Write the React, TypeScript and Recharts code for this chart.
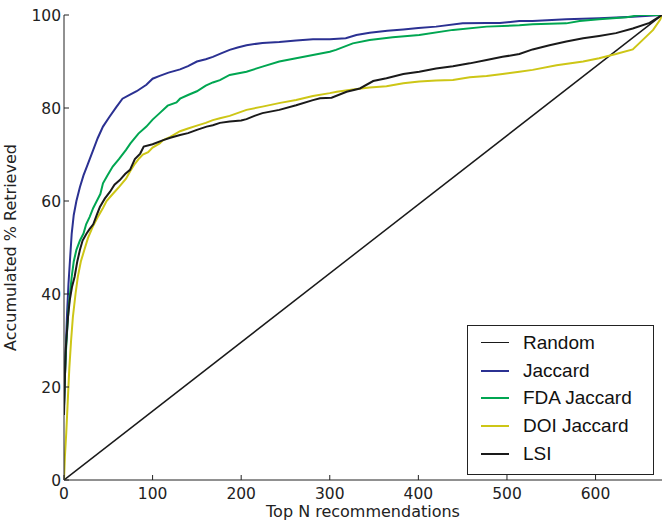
import React from "react";
import { LineChart, Line, XAxis, YAxis, Legend } from "recharts";

// [top N, accumulated % retrieved]
const random = [[0, 0], [675, 100]];

const jaccard = [
  [0, 16], [1, 22], [2, 28], [3.5, 36], [5, 42], [7, 48], [8.7, 53], [11, 57], [14, 60],
  [18, 63], [22, 65.5], [27, 68], [33, 71], [38, 73.5], [44, 76], [51, 78], [59, 80.2],
  [66, 82], [74, 82.8], [82, 83.6], [93, 85], [100, 86.3], [108, 86.9], [118, 87.6],
  [131, 88.3], [140, 89], [150, 90], [160, 90.5], [168, 91], [178, 91.8], [187, 92.5],
  [196, 93], [206, 93.5], [224, 94], [243, 94.2], [262, 94.5], [281, 94.8], [300, 94.8],
  [318, 95], [330, 95.7], [345, 96.2], [365, 96.6], [383, 96.9], [400, 97.2], [420, 97.5],
  [450, 98.2], [477, 98.3], [492, 98.3], [514, 98.7], [529, 98.7], [567, 99.1], [604, 99.3],
  [642, 99.6], [675, 100],
];

const fdaJaccard = [
  [0, 16], [1, 22], [2, 27], [3.5, 32], [5, 36.5], [7, 40.5], [8.7, 43.7], [11, 47], [14, 49.5],
  [18, 51.5], [22, 53], [25, 55], [29, 56.6], [33, 58.5], [37, 60], [41, 61.5], [44, 63.8],
  [49, 65.5], [55, 67.4], [62, 69], [70, 71], [75, 72.4], [84, 74.5], [93, 76], [100, 77.5],
  [108, 78.9], [117, 80.5], [127, 81.2], [131, 82], [140, 82.8], [150, 83.6], [160, 84.8],
  [168, 85.5], [176, 86], [187, 87.1], [206, 87.8], [224, 88.9], [243, 90], [262, 90.7],
  [281, 91.4], [300, 92.1], [307, 92.5], [326, 93.9], [345, 94.6], [371, 95.2], [401, 95.7],
  [439, 96.8], [477, 97.5], [514, 97.8], [529, 98], [567, 98.2], [582, 98.7], [604, 99.1],
  [635, 99.5], [650, 100], [675, 100],
];

const doiJaccard = [
  [0, 0], [1, 5], [2.5, 10], [4, 16], [6, 24], [8, 30], [10, 35], [13, 40], [15.6, 43.7],
  [19, 47], [23, 49.5], [27, 52], [32.5, 54.5], [38, 56.5], [44, 58.5], [48, 60], [55, 61.5],
  [62, 63], [70, 64.8], [75, 66.5], [80, 68], [85, 69.2], [89, 70], [95, 70.5], [100, 71.5],
  [108, 72.4], [112, 73.1], [120, 73.8], [131, 75], [140, 75.6], [150, 76.2], [160, 76.8],
  [168, 77.4], [176, 77.8], [187, 78.3], [206, 79.6], [224, 80.3], [244, 81.1], [262, 81.7],
  [281, 82.6], [300, 83.2], [308, 83.5], [326, 84], [345, 84.4], [364, 84.7], [383, 85.3],
  [401, 85.7], [420, 85.9], [439, 86], [458, 86.6], [477, 86.9], [495, 87.3], [514, 87.8],
  [529, 88.2], [556, 89.2], [586, 90], [604, 90.7], [623, 91.6], [642, 92.6], [653, 94.6],
  [665, 96.8], [673, 99], [675, 100],
];

const lsi = [
  [0, 14], [1, 22], [2, 28], [3, 31], [4.5, 35], [6.5, 38.7], [9, 41.5], [12, 43.7], [15, 47],
  [18, 49.5], [21, 51.5], [25.5, 53], [29, 54], [33, 55], [37, 57], [40.5, 58.7], [46, 60.5],
  [52, 62], [57, 63.5], [63, 64.5], [69, 65.8], [74.5, 66.7], [80, 69], [86, 70.2], [90, 71.7],
  [100, 72.2], [112, 73.1], [120, 73.6], [131, 74.2], [140, 74.6], [150, 75.3], [161, 76],
  [168, 76.3], [176, 76.8], [187, 77.1], [200, 77.3], [206, 77.6], [215, 78.3], [224, 78.9],
  [243, 79.6], [262, 80.6], [281, 81.7], [289, 82.1], [302, 82.2], [319, 83.5], [334, 84.2],
  [349, 85.8], [364, 86.4], [383, 87.3], [401, 87.8], [420, 88.5], [439, 89], [458, 89.6],
  [477, 90.3], [495, 91], [514, 91.6], [529, 92.6], [548, 93.5], [567, 94.3], [586, 95],
  [604, 95.5], [623, 96.1], [642, 97.1], [661, 98.3], [675, 100],
];

const xTicks = [0, 100, 200, 300, 400, 500, 600];
const yTicks = [0, 20, 40, 60, 80, 100];

const SERIES = [
  { name: "Random", points: random, color: "#1a1a1a", width: 1.5 },
  { name: "Jaccard", points: jaccard, color: "#2b3192", width: 2 },
  { name: "FDA Jaccard", points: fdaJaccard, color: "#00a651", width: 2 },
  { name: "DOI Jaccard", points: doiJaccard, color: "#cdc616", width: 2 },
  { name: "LSI", points: lsi, color: "#1a1a1a", width: 2 },
];
const ORDER = SERIES.map((s) => s.name);

const toRows = (pts: number[][]) => pts.map(([x, y]) => ({ x, y }));

const INK = "#222";
const TICK_FONT = { fontFamily: "DejaVu Sans", fontSize: 15.5, fill: "#222" };

const BottomTick = ({ x, y, payload }: any) => (
  <g>
    <line x1={x} y1={y} x2={x} y2={y - 5} stroke={INK} />
    <text x={x} y={y + 19} textAnchor="middle" {...TICK_FONT}>{payload.value}</text>
  </g>
);
const TopTick = ({ x, y }: any) => <line x1={x} y1={y} x2={x} y2={y + 5} stroke={INK} />;
const LeftTick = ({ x, y, payload }: any) => (
  <g>
    <line x1={x} y1={y} x2={x + 5} y2={y} stroke={INK} />
    <text x={x - 3} y={y + 5.5} textAnchor="end" {...TICK_FONT}>{payload.value}</text>
  </g>
);
const RightTick = ({ x, y }: any) => <line x1={x} y1={y} x2={x - 5} y2={y} stroke={INK} />;

const LegendBox = ({ payload }: any) => {
  const items = [...(payload || [])].sort(
    (a: any, b: any) => ORDER.indexOf(a.value) - ORDER.indexOf(b.value),
  );
  return (
    <div style={{
      width: 185, height: 145, border: "1px solid #222", background: "#fff",
      boxSizing: "content-box", paddingTop: 3,
    }}>
      {items.map((p: any) => (
        <div key={p.value} style={{ display: "flex", alignItems: "center", height: 27.7 }}>
          <span style={{
            display: "inline-block", width: 28, marginLeft: 13, marginRight: 14,
            borderTop: `${p.payload?.strokeWidth ?? 2}px solid ${p.color}`,
          }} />
          <span style={{ fontFamily: "Liberation Sans", fontSize: 19, color: "#111" }}>{p.value}</span>
        </div>
      ))}
    </div>
  );
};

export default function App() {
  return (
    <div style={{ position: "absolute", left: 0, top: 0, background: "#fff" }}>
      <LineChart width={662} height={525} margin={{ top: 15, right: 0, bottom: 0, left: 0 }}>
        <XAxis
          type="number" dataKey="x" domain={[0, 675]} ticks={xTicks} allowDataOverflow
          height={45} tickSize={0} tickMargin={0} tickLine={false}
          axisLine={{ stroke: INK }} tick={<BottomTick />}
          label={{
            content: ({ viewBox }: any) => (
              <text x={viewBox.x + viewBox.width / 2} y={viewBox.y + 37} textAnchor="middle"
                fontFamily="DejaVu Sans" fontSize={16} fill="#222">Top N recommendations</text>
            ),
          }}
        />
        <XAxis
          xAxisId="top" orientation="top" type="number" dataKey="x" domain={[0, 675]} ticks={xTicks}
          allowDataOverflow height={0} tickSize={0} tickMargin={0} tickLine={false}
          axisLine={{ stroke: INK }} tick={<TopTick />}
        />
        <YAxis
          type="number" domain={[0, 100]} ticks={yTicks} allowDataOverflow
          width={64} tickSize={0} tickMargin={0} tickLine={false}
          axisLine={{ stroke: INK }} tick={<LeftTick />}
          label={{
            content: ({ viewBox }: any) => {
              const cx = viewBox.x + 16;
              const cy = viewBox.y + viewBox.height / 2;
              return (
                <text x={cx} y={cy} transform={`rotate(-90 ${cx} ${cy})`} textAnchor="middle"
                  fontFamily="DejaVu Sans" fontSize={16} fill="#222">Accumulated % Retrieved</text>
              );
            },
          }}
        />
        <YAxis
          yAxisId="right" orientation="right" type="number" domain={[0, 100]} ticks={yTicks}
          allowDataOverflow width={0} tickSize={0} tickMargin={0} tickLine={false}
          axisLine={{ stroke: INK }} tick={<RightTick />}
        />
        <Legend
          layout="vertical" align="center" verticalAlign="middle"
          wrapperStyle={{ position: "absolute", left: 467, top: 325, width: "auto" }}
          content={<LegendBox />}
        />
        {SERIES.map((s) => (
          <Line
            key={s.name}
            data={toRows(s.points)}
            dataKey="y"
            name={s.name}
            type="linear"
            stroke={s.color}
            strokeWidth={s.width}
            dot={false}
            activeDot={false}
            isAnimationActive={false}
          />
        ))}
      </LineChart>
    </div>
  );
}
